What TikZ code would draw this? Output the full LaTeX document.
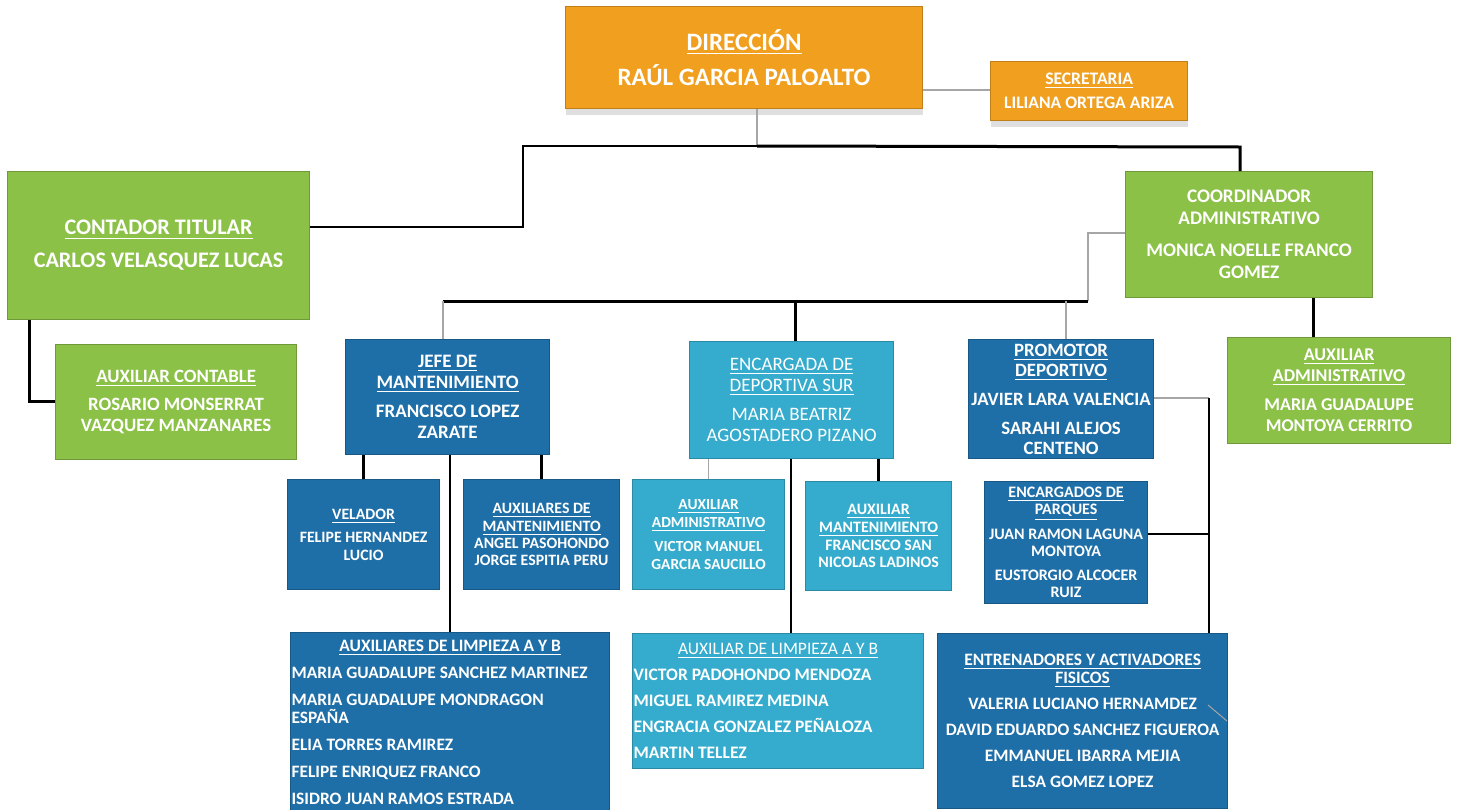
\documentclass[tikz,border=0pt]{standalone}
\usepackage{fontspec}
\setmainfont{Carlito}
\usetikzlibrary{shadows}

\definecolor{naranja}{HTML}{F09F1E}
\definecolor{verde}{HTML}{8CC148}
\definecolor{azul}{HTML}{1E6EA8}
\definecolor{celeste}{HTML}{35ACCD}
\definecolor{gris}{HTML}{A6A6A6}

\newcommand{\tit}[1]{\underline{#1}}

\tikzset{
  caja/.style={draw=#1!80!black, line width=0.6pt, fill=#1, text=white,
    align=center, anchor=north west, inner sep=0.5pt},
  sombra/.style={drop shadow={shadow xshift=0pt, shadow yshift=-3pt, opacity=0.25}},
  gris/.style={draw=gris, line width=0.75pt},
  negro/.style={draw=black, line width=1pt},
  grueso/.style={draw=black, line width=1.5pt}
}

\begin{document}
\begin{tikzpicture}[x=0.5pt, y=-0.5pt]
  \useasboundingbox (0,0) rectangle (1457,809);

  % direccion y secretaria
  \node[caja=naranja, sombra, minimum width=178.5pt, minimum height=51pt,
    font=\fontsize{12.5}{17.5}\selectfont\bfseries] (dir) at (565,6)
    {\tit{DIRECCIÓN}\\RAÚL GARCIA PALOALTO};
  \node[caja=naranja, sombra, minimum width=98.5pt, minimum height=29.5pt,
    font=\fontsize{8.8}{12}\selectfont\bfseries] (sec) at (990,61)
    {\tit{SECRETARIA}\\LILIANA ORTEGA ARIZA};

  % contador
  \node[caja=verde, minimum width=151pt, minimum height=74pt,
    font=\fontsize{11.1}{16.5}\selectfont\bfseries] (cont) at (7,171)
    {\tit{CONTADOR TITULAR}\\CARLOS VELASQUEZ LUCAS};
  \node[caja=verde, minimum width=120.5pt, minimum height=57.5pt,
    font=\fontsize{9.4}{10.5}\selectfont\bfseries] (auxcont) at (55,344)
    {\tit{AUXILIAR CONTABLE}\\[3.5pt]ROSARIO MONSERRAT\\VAZQUEZ MANZANARES};

  % coordinador
  \node[caja=verde, minimum width=123.5pt, minimum height=63pt,
    font=\fontsize{9.6}{11}\selectfont\bfseries] (coord) at (1125,171)
    {COORDINADOR\\ADMINISTRATIVO\\[5pt]MONICA NOELLE FRANCO\\GOMEZ};
  \node[caja=verde, minimum width=111.5pt, minimum height=53pt,
    font=\fontsize{9}{10.5}\selectfont\bfseries] (auxadm) at (1227,337)
    {\tit{AUXILIAR}\\\tit{ADMINISTRATIVO}\\[4pt]MARIA GUADALUPE\\MONTOYA CERRITO};

  % mantenimiento
  \node[caja=azul, minimum width=102pt, minimum height=57.5pt,
    font=\fontsize{9.5}{10.5}\selectfont\bfseries] (jefe) at (345,339)
    {\tit{JEFE DE}\\\tit{MANTENIMIENTO}\\[4pt]FRANCISCO LOPEZ\\ZARATE};
  \node[caja=azul, minimum width=76pt, minimum height=55pt,
    font=\fontsize{7.9}{9}\selectfont\bfseries] (vel) at (287,479)
    {\tit{VELADOR}\\[2.5pt]FELIPE HERNANDEZ\\LUCIO};
  \node[caja=azul, minimum width=78pt, minimum height=55pt,
    font=\fontsize{7.9}{8.7}\selectfont\bfseries] (auxmant) at (463,479)
    {\tit{AUXILIARES DE}\\\tit{MANTENIMIENTO}\\ANGEL PASOHONDO\\JORGE ESPITIA PERU};
  \node[caja=azul, minimum width=159.5pt, minimum height=90pt, text width=158.5pt,
    align=flush left, font=\fontsize{8.7}{9}\selectfont\bfseries] (limp) at (290,632)
    {\makebox[158.5pt]{\tit{AUXILIARES DE LIMPIEZA A Y B}}\\[4.5pt]
     MARIA GUADALUPE SANCHEZ MARTINEZ\\[4.5pt]
     MARIA GUADALUPE MONDRAGON\\ESPAÑA\\[4.5pt]
     ELIA TORRES RAMIREZ\\[4.5pt]
     FELIPE ENRIQUEZ FRANCO\\[4.5pt]
     ISIDRO JUAN RAMOS ESTRADA};

  % deportiva sur
  \node[caja=celeste, minimum width=102pt, minimum height=58.5pt,
    font=\fontsize{9.5}{10.75}\selectfont] (enc) at (689,341)
    {\tit{ENCARGADA DE}\\\tit{DEPORTIVA SUR}\\[3.5pt]MARIA BEATRIZ\\AGOSTADERO PIZANO};
  \node[caja=celeste, minimum width=76pt, minimum height=55pt,
    font=\fontsize{7.7}{8.7}\selectfont\bfseries] (auxadm2) at (632,479)
    {\tit{AUXILIAR}\\\tit{ADMINISTRATIVO}\\[3.5pt]VICTOR MANUEL\\GARCIA SAUCILLO};
  \node[caja=celeste, minimum width=73pt, minimum height=54.5pt,
    font=\fontsize{7.95}{8.8}\selectfont\bfseries] (auxmant2) at (805,481)
    {\tit{AUXILIAR}\\\tit{MANTENIMIENTO}\\FRANCISCO SAN\\NICOLAS LADINOS};
  \node[caja=celeste, minimum width=145.5pt, minimum height=67.5pt, text width=144.5pt,
    align=flush left, font=\fontsize{8.75}{13}\selectfont\bfseries] (limp2) at (632,633)
    {\makebox[144.5pt]{\mdseries\tit{AUXILIAR DE LIMPIEZA A Y B}}\\
     VICTOR PADOHONDO MENDOZA\\
     MIGUEL RAMIREZ MEDINA\\
     ENGRACIA GONZALEZ PEÑALOZA\\
     MARTIN TELLEZ};

  % promotor deportivo
  \node[caja=azul, minimum width=92.5pt, minimum height=59.5pt,
    font=\fontsize{9.4}{10}\selectfont\bfseries] (prom) at (968,339)
    {\tit{PROMOTOR}\\\tit{DEPORTIVO}\\[4.5pt]JAVIER LARA VALENCIA\\[4.5pt]SARAHI ALEJOS\\CENTENO};
  \node[caja=azul, minimum width=81.5pt, minimum height=61pt,
    font=\fontsize{8}{8.5}\selectfont\bfseries] (parq) at (984,481)
    {\tit{ENCARGADOS DE}\\\tit{PARQUES}\\[3.7pt]JUAN RAMON LAGUNA\\MONTOYA\\[3.7pt]EUSTORGIO ALCOCER\\RUIZ};
  \node[caja=azul, minimum width=145pt, minimum height=87.5pt,
    font=\fontsize{8.7}{9}\selectfont\bfseries] (entr) at (937,633)
    {\tit{ENTRENADORES Y ACTIVADORES}\\\tit{FISICOS}\\[4pt]
     VALERIA LUCIANO HERNAMDEZ\\[4pt]
     DAVID EDUARDO SANCHEZ FIGUEROA\\[4pt]
     EMMANUEL IBARRA MEJIA\\[4pt]
     ELSA GOMEZ LOPEZ};

  % puntos de union
  \coordinate (jD) at (757,146);
  \coordinate (jL) at (523,146);
  \coordinate (jC) at (523,227);
  \coordinate (jR) at (1240,147);
  \coordinate (jS) at (956,90);
  \coordinate (jA) at (29,401);
  \coordinate (jB) at (1088,233);
  \coordinate (jB2) at (1088,301);
  \coordinate (jJ) at (443,301);
  \coordinate (jE) at (795,301);
  \coordinate (jP) at (1066,301);
  \coordinate (jX) at (1313,320);
  \coordinate (jK) at (791,520);
  \coordinate (jT) at (1209,398);
  \coordinate (jQ) at (1209,534);
  \coordinate (dA) at (1208,705);
  \coordinate (dB) at (1227,721);

  % lineas
  \draw[gris] (dir.south -| jD) -- (jD);
  \draw[negro] (jD) -- (jL) -- (jC) -- (jC -| cont.east);
  \draw[grueso] (jD) -- (jR) -- (jR |- coord.north);
  \draw[gris] (dir.east |- jS) -- (jS -| sec.west);
  \draw[grueso] (cont.south -| jA) -- (jA) -- (jA -| auxcont.west);
  \draw[gris] (coord.west |- jB) -- (jB) -- (jB2);
  \draw[grueso] (jB2) -- (jJ);
  \draw[gris] (jJ) -- (jJ |- jefe.north);
  \draw[grueso] (jE) -- (jE |- enc.north);
  \draw[gris] (jP) -- (jP |- prom.north);
  \draw[grueso] (coord.south -| jX) -- (jX |- auxadm.north);
  \draw[grueso] (vel.north) -- (vel.north |- jefe.south);
  \draw[grueso] (auxmant.north) -- (auxmant.north |- jefe.south);
  \draw[negro] (jefe.south -| limp.north) -- (limp.north);
  \draw[gris] (auxadm2.north) -- (auxadm2.north |- enc.south);
  \draw[grueso] (auxmant2.north) -- (auxmant2.north |- enc.south);
  \draw[negro] (enc.south -| jK) -- (jK |- limp2.north);
  \draw[gris] (prom.east |- jT) -- (jT);
  \draw[negro] (jT) -- (jT |- entr.north);
  \draw[negro] (parq.east |- jQ) -- (jQ);
  \draw[gris, line width=0.5pt] (dA) -- (dB);
\end{tikzpicture}
\end{document}
